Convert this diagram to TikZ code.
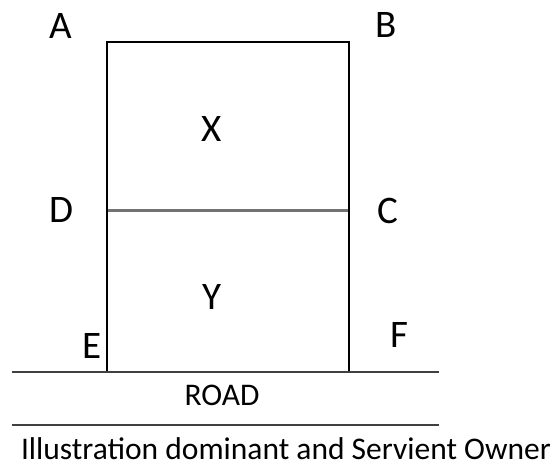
\documentclass[tikz,border=0pt]{standalone}
\usepackage{fontspec}
\setmainfont{Carlito}
\begin{document}
\begin{tikzpicture}[x=1pt,y=-1pt,
  lbl/.style={inner sep=0pt, anchor=base, font=\fontsize{39}{39}\selectfont},
  small/.style={inner sep=0pt, anchor=base, font=\fontsize{31.5}{31.5}\selectfont},
  rect/.style={draw=black, line width=1.7pt},
  mid/.style={draw=black!55, line width=3pt},
  road/.style={draw=black!75, line width=2.2pt}]
\useasboundingbox (0,0) rectangle (555,467);
\coordinate (TL) at (107,42);
\coordinate (TR) at (349,42);
\coordinate (ML) at (107,210);
\coordinate (MR) at (349,210);
\coordinate (BL) at (107,372);
\coordinate (BR) at (349,372);
\coordinate (R1a) at (12,372);
\coordinate (R1b) at (439,372);
\coordinate (R2a) at (12,425);
\coordinate (R2b) at (439,425);
\draw[mid] (ML) -- (MR);
\draw[rect] (BL) -- (TL) -- (TR) -- (BR);
\draw[road] (R1a) -- (R1b);
\draw[road] (R2a) -- (R2b);
\node[lbl] (A) at (61,38) {A};
\node[lbl] (B) at (386,37) {B};
\node[lbl] (X) at (212,141) {X};
\node[lbl] (D) at (61,222) {D};
\node[lbl] (C) at (388,223) {C};
\node[lbl] (Y) at (212,309) {Y};
\node[lbl] (E) at (92,358) {E};
\node[lbl] (F) at (399,347) {F};
\node[small] (road) at (222,405) {ROAD};
\node[small] (cap) at (286,459) {Illustration dominant and Servient Owner};
\end{tikzpicture}
\end{document}
